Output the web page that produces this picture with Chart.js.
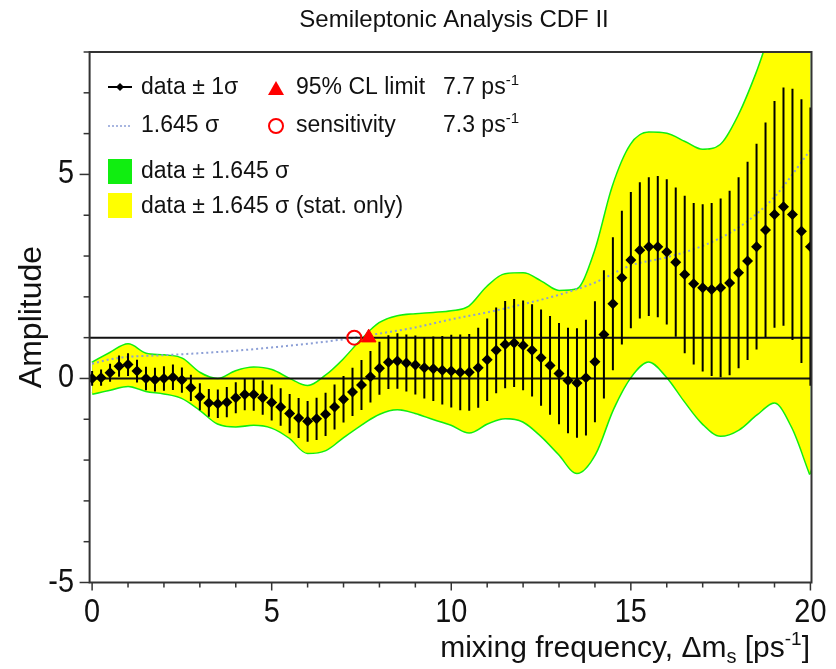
<!DOCTYPE html>
<html>
<head>
<meta charset="utf-8">
<title>Semileptonic Analysis CDF II</title>
<script src="https://cdn.jsdelivr.net/npm/chart.js@4.4.1/dist/chart.umd.min.js"></script>
<style>
  html, body { margin: 0; padding: 0; background: #fff; }
  #wrap { width: 836px; height: 669px; }
</style>
</head>
<body>
<div id="wrap"><canvas id="amp" width="836" height="669"></canvas></div>
<script>
// ---------- DATA ----------
const dmValues = [
  0, 0.25, 0.5, 0.75, 1, 1.25, 1.5, 1.75, 2, 2.25, 2.5, 2.75, 3, 3.25, 3.5, 3.75,
  4, 4.25, 4.5, 4.75, 5, 5.25, 5.5, 5.75, 6, 6.25, 6.5, 6.75, 7, 7.25, 7.5, 7.75,
  8, 8.25, 8.5, 8.75, 9, 9.25, 9.5, 9.75, 10, 10.25, 10.5, 10.75, 11, 11.25, 11.5, 11.75,
  12, 12.25, 12.5, 12.75, 13, 13.25, 13.5, 13.75, 14, 14.25, 14.5, 14.75, 15, 15.25, 15.5, 15.75,
  16, 16.25, 16.5, 16.75, 17, 17.25, 17.5, 17.75, 18, 18.25, 18.5, 18.75, 19, 19.25, 19.5, 19.75, 20
];
const amplitude = [
  0.00, 0.02, 0.14, 0.30, 0.34, 0.18, 0.00, -0.03, 0.00, 0.03, -0.04, -0.23, -0.45, -0.60, -0.62, -0.58,
  -0.47, -0.39, -0.39, -0.47, -0.59, -0.70, -0.86, -0.97, -1.05, -0.99, -0.88, -0.70, -0.51, -0.33, -0.16, 0.04,
  0.25, 0.40, 0.43, 0.38, 0.33, 0.26, 0.24, 0.20, 0.18, 0.15, 0.15, 0.26, 0.46, 0.69, 0.83, 0.87,
  0.81, 0.69, 0.51, 0.32, 0.12, -0.05, -0.11, 0.02, 0.41, 1.08, 1.83, 2.47, 2.90, 3.14, 3.23, 3.23,
  3.10, 2.85, 2.55, 2.32, 2.22, 2.18, 2.22, 2.34, 2.59, 2.88, 3.23, 3.64, 4.02, 4.21, 4.02, 3.61, 3.23
];
const sigma = [
  0.18, 0.20, 0.22, 0.26, 0.28, 0.28, 0.29, 0.29, 0.30, 0.31, 0.31, 0.32, 0.33, 0.34, 0.35, 0.37,
  0.38, 0.39, 0.40, 0.42, 0.44, 0.46, 0.48, 0.49, 0.50, 0.52, 0.53, 0.55, 0.57, 0.59, 0.61, 0.63,
  0.65, 0.66, 0.68, 0.70, 0.72, 0.75, 0.79, 0.84, 0.89, 0.93, 0.94, 0.98, 1.01, 1.05, 1.07, 1.08,
  1.10, 1.13, 1.18, 1.21, 1.24, 1.29, 1.34, 1.42, 1.48, 1.57, 1.63, 1.64, 1.67, 1.67, 1.70, 1.73,
  1.78, 1.83, 1.93, 1.98, 2.05, 2.12, 2.19, 2.26, 2.34, 2.43, 2.52, 2.63, 2.78, 2.92, 3.08, 3.23, 3.41
];

// 1.645 sigma sensitivity curve (dotted)
const sensX = [0, 0.5, 1, 2, 3, 4, 5, 6, 7, 8, 9, 10, 11, 12, 13, 14, 15, 16, 17, 18, 19, 20];
const sensY = [0.36, 0.47, 0.53, 0.57, 0.62, 0.68, 0.76, 0.85, 0.96, 1.10, 1.25, 1.45, 1.62, 1.82, 2.05, 2.35, 2.77, 2.97, 3.25, 3.70, 4.45, 5.60];

// +-1.645 sigma band edges
const bandX = [
  0, 0.5, 1, 1.5, 2, 2.5, 3, 3.5, 4, 4.5, 5, 5.5, 6, 6.5, 7, 7.5, 8, 8.5, 9, 9.5, 10,
  10.5, 11, 11.5, 12, 12.5, 13, 13.5, 14, 14.5, 15, 15.5, 16, 16.5, 17, 17.5, 18, 18.5, 19, 19.5, 20
];
const bandUpper = [
  0.38, 0.62, 0.83, 0.60, 0.56, 0.48, 0.13, -0.02, 0.17, 0.26, 0.20, -0.02, -0.19, 0.06, 0.46, 0.94, 1.35, 1.52, 1.57, 1.60, 1.64,
  1.76, 2.24, 2.55, 2.57, 2.37, 2.14, 2.18, 3.10, 4.70, 5.72, 6.02, 5.99, 5.79, 5.60, 5.72, 6.43, 7.47, 8.70, 9.50, 10.20
];
const bandLower = [
  -0.37, -0.27, -0.18, -0.30, -0.36, -0.47, -0.76, -1.10, -1.17, -1.13, -1.20, -1.45, -1.82, -1.75, -1.43, -1.12, -0.86, -0.75, -0.84, -0.99, -1.13,
  -1.32, -1.10, -0.97, -1.05, -1.40, -1.85, -2.31, -1.85, -0.75, 0.05, 0.42, 0.05, -0.55, -1.10, -1.40, -1.25, -0.88, -0.58, -1.20, -2.35
];

// limit and sensitivity markers
const limitPoint = [{ x: 7.7, y: 1.0 }];
const sensPoint = [{ x: 7.3, y: 1.0 }];

const X_MIN = -0.07, X_MAX = 20.03, Y_MIN = -5, Y_MAX = 8;
const FONT = '"Liberation Sans", Arial, Helvetica, sans-serif';
const GREEN = "#10ee10";
const YELLOW = "#ffff00";

const xy = (xs, ys) => xs.map((x, i) => ({ x: x, y: ys[i] }));

// ---------- helpers for canvas text ----------
function drawText(ctx, s, x, y, size, align, sx) {
  ctx.save();
  ctx.font = size + "px " + FONT;
  ctx.textAlign = align || "left";
  ctx.textBaseline = "alphabetic";
  ctx.fillStyle = "#111";
  ctx.translate(x, y);
  ctx.scale(sx || 1, 1);
  ctx.fillText(s, 0, 0);
  ctx.restore();
}

// pieces: [text, size, dy]
function drawRich(ctx, pieces, x, y, align) {
  ctx.save();
  ctx.fillStyle = "#111";
  ctx.textBaseline = "alphabetic";
  ctx.textAlign = "left";
  let total = 0;
  pieces.forEach(p => { ctx.font = p[1] + "px " + FONT; total += ctx.measureText(p[0]).width; });
  let cx = align === "right" ? x - total : x;
  pieces.forEach(p => {
    ctx.font = p[1] + "px " + FONT;
    ctx.fillText(p[0], cx, y + p[2]);
    cx += ctx.measureText(p[0]).width;
  });
  ctx.restore();
}

// ---------- frame, ticks, labels, legend ----------
const decorPlugin = {
  id: "decor",
  afterDraw(chart) {
    const ctx = chart.ctx;
    const a = chart.chartArea;
    const xs = chart.scales.x, ys = chart.scales.y;

    ctx.save();
    ctx.strokeStyle = "#333";
    ctx.lineWidth = 2;
    ctx.strokeRect(a.left, a.top, a.right - a.left, a.bottom - a.top);

    // x ticks (outward)
    ctx.lineWidth = 1.5;
    for (let v = 0; v <= 20; v++) {
      const px = xs.getPixelForValue(v);
      const len = v % 5 === 0 ? 8 : 5;
      ctx.beginPath();
      ctx.moveTo(px, a.bottom);
      ctx.lineTo(px, a.bottom + len);
      ctx.stroke();
    }
    // y ticks (outward)
    for (let v = -5; v <= 8; v++) {
      const py = ys.getPixelForValue(v);
      const len = v % 5 === 0 ? 10 : 6;
      ctx.beginPath();
      ctx.moveTo(a.left, py);
      ctx.lineTo(a.left - len, py);
      ctx.stroke();
    }
    ctx.restore();

    // tick labels
    [0, 5, 10, 15, 20].forEach(v => {
      drawText(ctx, String(v), xs.getPixelForValue(v), 622, 34, "center", 0.85);
    });
    [-5, 0, 5].forEach(v => {
      drawText(ctx, String(v), 74, ys.getPixelForValue(v) + 9, 34, "right", 0.85);
    });

    // axis titles
    drawRich(ctx, [
      ["mixing frequency, \u0394m", 30, 0],
      ["s", 20, 6],
      [" [ps", 30, 0],
      ["-1", 19, -12],
      ["]", 30, 0]
    ], 810, 657, "right");

    ctx.save();
    ctx.translate(41, 317);
    ctx.rotate(-Math.PI / 2);
    drawText(ctx, "Amplitude", 0, 0, 32, "center");
    ctx.restore();

    // title
    drawText(ctx, "Semileptonic Analysis CDF II", 454, 27, 24, "center");

    // ---- legend ----
    ctx.save();
    // data +- 1 sigma : line with diamond
    ctx.strokeStyle = "#000";
    ctx.lineWidth = 2;
    ctx.beginPath();
    ctx.moveTo(108, 87);
    ctx.lineTo(132, 87);
    ctx.stroke();
    ctx.fillStyle = "#000";
    ctx.beginPath();
    ctx.moveTo(120, 83); ctx.lineTo(124, 87); ctx.lineTo(120, 91); ctx.lineTo(116, 87);
    ctx.closePath();
    ctx.fill();
    // dotted 1.645 sigma
    ctx.strokeStyle = "#8c9fd6";
    ctx.setLineDash([2, 2]);
    ctx.lineWidth = 1.5;
    ctx.beginPath();
    ctx.moveTo(108, 126);
    ctx.lineTo(132, 126);
    ctx.stroke();
    ctx.setLineDash([]);
    // red triangle
    ctx.fillStyle = "#ff0000";
    ctx.beginPath();
    ctx.moveTo(276, 81); ctx.lineTo(284, 95); ctx.lineTo(268, 95);
    ctx.closePath();
    ctx.fill();
    // red open circle
    ctx.strokeStyle = "#ff0000";
    ctx.lineWidth = 2;
    ctx.beginPath();
    ctx.arc(276, 126, 7, 0, Math.PI * 2);
    ctx.stroke();
    // colour boxes
    ctx.fillStyle = GREEN;
    ctx.fillRect(108, 159, 24, 25);
    ctx.fillStyle = YELLOW;
    ctx.fillRect(108, 193, 24, 25);
    ctx.restore();

    drawText(ctx, "data \u00b1 1\u03c3", 141, 94, 23);
    drawText(ctx, "1.645 \u03c3", 141, 132, 23);
    drawText(ctx, "95% CL limit", 296, 94, 23);
    drawText(ctx, "sensitivity", 296, 132, 23);
    drawRich(ctx, [["7.7 ps", 23, 0], ["-1", 15, -9]], 443, 94, "left");
    drawRich(ctx, [["7.3 ps", 23, 0], ["-1", 15, -9]], 443, 132, "left");
    drawText(ctx, "data \u00b1 1.645 \u03c3", 141, 178, 23);
    drawText(ctx, "data \u00b1 1.645 \u03c3 (stat. only)", 141, 213, 23);
  }
};

// ---------- CHART ----------
const canvas = document.getElementById("amp");

const datasets = [
  {
    label: "data \u00b1 1\u03c3",
    type: "scatter",
    data: xy(dmValues, amplitude),
    pointStyle: "rectRot",
    pointRadius: 5.5,
    backgroundColor: "#000",
    borderColor: "#000",
    borderWidth: 0,
    showLine: false,
    order: 1
  },
  {
    label: "error bars",
    type: "bar",
    data: dmValues.map((x, i) => ({ x: x, y: [amplitude[i] - sigma[i], amplitude[i] + sigma[i]] })),
    backgroundColor: "#000",
    borderWidth: 0,
    barThickness: 2,
    inflateAmount: 0,
    grouped: false,
    order: 2
  },
  {
    label: "95% CL limit",
    type: "scatter",
    data: limitPoint,
    pointStyle: "triangle",
    pointRadius: 8.5,
    backgroundColor: "#ff0000",
    borderColor: "#ff0000",
    order: 0
  },
  {
    label: "sensitivity",
    type: "scatter",
    data: sensPoint,
    pointStyle: "circle",
    pointRadius: 7,
    borderWidth: 2,
    backgroundColor: "rgba(0,0,0,0)",
    borderColor: "#ff0000",
    order: 0
  },
  {
    label: "zero",
    type: "line",
    data: [{ x: X_MIN, y: 0 }, { x: X_MAX, y: 0 }],
    borderColor: "#111",
    borderWidth: 2,
    pointRadius: 0,
    fill: false,
    order: 3
  },
  {
    label: "one",
    type: "line",
    data: [{ x: X_MIN, y: 1 }, { x: X_MAX, y: 1 }],
    borderColor: "#111",
    borderWidth: 2,
    pointRadius: 0,
    fill: false,
    order: 3
  },
  {
    label: "1.645 \u03c3",
    type: "line",
    data: xy(sensX, sensY),
    borderColor: "#8c9fd6",
    borderWidth: 2,
    borderDash: [2, 3],
    pointRadius: 0,
    cubicInterpolationMode: "monotone",
    fill: false,
    order: 4
  },
  {
    label: "stat upper",
    type: "line",
    data: xy(bandX, bandUpper),
    borderColor: "rgba(0,0,0,0)",
    borderWidth: 1,
    backgroundColor: YELLOW,
    pointRadius: 0,
    cubicInterpolationMode: "monotone",
    fill: "+1",
    order: 5
  },
  {
    label: "stat lower",
    type: "line",
    data: xy(bandX, bandLower),
    borderColor: "rgba(0,0,0,0)",
    borderWidth: 1,
    pointRadius: 0,
    cubicInterpolationMode: "monotone",
    fill: false,
    order: 5
  },
  {
    label: "total upper",
    type: "line",
    data: xy(bandX, bandUpper),
    borderColor: GREEN,
    borderWidth: 3,
    backgroundColor: GREEN,
    pointRadius: 0,
    cubicInterpolationMode: "monotone",
    fill: "+1",
    order: 6
  },
  {
    label: "total lower",
    type: "line",
    data: xy(bandX, bandLower),
    borderColor: GREEN,
    borderWidth: 3,
    pointRadius: 0,
    cubicInterpolationMode: "monotone",
    fill: false,
    order: 6
  }
];

try {
  new Chart(canvas, {
    type: "scatter",
    data: { datasets: datasets },
    options: {
      responsive: false,
      animation: false,
      events: [],
      layout: { padding: { top: 52, right: 24.5, left: 0, bottom: 0 } },
      plugins: {
        legend: { display: false },
        tooltip: { enabled: false },
        title: { display: false }
      },
      scales: {
        x: {
          type: "linear",
          min: X_MIN,
          max: X_MAX,
          offset: false,
          grid: { display: false },
          border: { display: false },
          ticks: { display: false },
          afterFit: function (s) { s.height = 86.5; }
        },
        y: {
          type: "linear",
          min: Y_MIN,
          max: Y_MAX,
          grid: { display: false },
          border: { display: false },
          ticks: { display: false },
          afterFit: function (s) { s.width = 89.6; }
        }
      }
    },
    plugins: [decorPlugin]
  });
} catch (err) {
  console.error("Error creating Chart:", err);
}
</script>
</body>
</html>
